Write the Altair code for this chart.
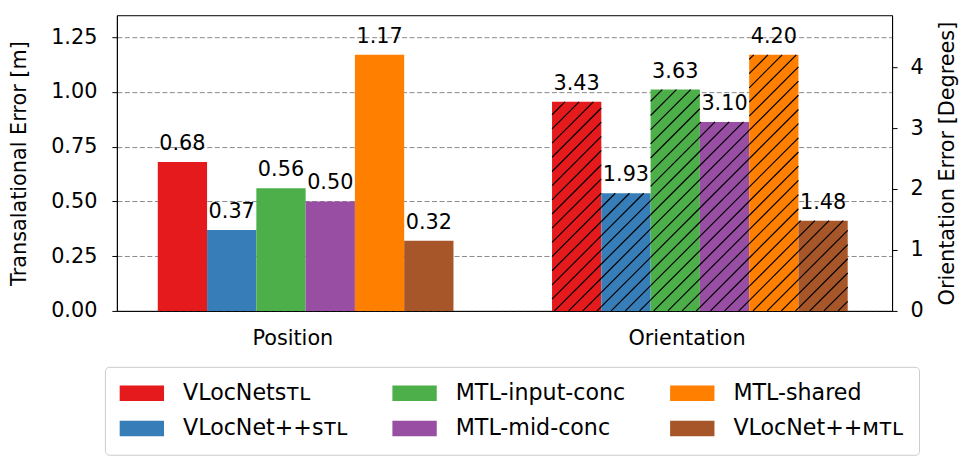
import altair as alt
import pandas as pd
import numpy as np

# ---- data ----
methods = ["VLocNetꜱᴛʟ", "VLocNet++ꜱᴛʟ", "MTL-input-conc", "MTL-mid-conc", "MTL-shared", "VLocNet++ᴍᴛʟ"]
colors = ["#e41a1c", "#377eb8", "#4daf4a", "#984ea3", "#ff7f00", "#a65628"]
position_err = [0.68, 0.37, 0.56, 0.50, 1.17, 0.32]
orientation_err = [3.43, 1.93, 3.63, 3.10, 4.20, 1.48]
groups = ["Position", "Orientation"]
left_ticks = [0.0, 0.25, 0.5, 0.75, 1.0, 1.25]
right_ticks = [0, 1, 2, 3, 4]

# ---- layout ----
W, H = 776, 296
X_DOM = [-0.83, 14.9]
Y_LEFT = [0, 1.35]
Y_RIGHT = [0, 4.85]
GROUP_STEP = 8
TICK_SHIFT = 2.73
FS = 20.8
FS_LEG = 22.2


def frame(vals, g):
    n = len(vals)
    return pd.DataFrame({
        "method": methods,
        "value": vals,
        "zero": [0] * n,
        "x": [g * GROUP_STEP + i for i in range(n)],
        "x2": [g * GROUP_STEP + i + 1 for i in range(n)],
        "xc": [g * GROUP_STEP + i + 0.5 for i in range(n)],
        "label": [f"{v:.2f}" for v in vals],
    })


pos = frame(position_err, 0)
ori = frame(orientation_err, 1)

# hatch lines ('/') for the orientation bars, 45 degrees in screen space
sx = W / (X_DOM[1] - X_DOM[0])
sy = H / (Y_RIGHT[1] - Y_RIGHT[0])
spacing = 14.2
rows = []
for _, r in ori.iterrows():
    X0 = (r.x - X_DOM[0]) * sx
    X1 = (r.x2 - X_DOM[0]) * sx
    Hp = r.value * sy
    kmin = int(np.floor((X0 - Hp) / spacing)) - 1
    kmax = int(np.ceil(X1 / spacing)) + 1
    for k in range(kmin, kmax + 1):
        c = k * spacing + 12
        xs = max(X0, c)
        xe = min(X1, c + Hp)
        if xe - xs > 0.6:
            rows.append(dict(hx=xs / sx + X_DOM[0], hx2=xe / sx + X_DOM[0],
                             hy=(xs - c) / sy, hy2=(xe - c) / sy))
hatch_df = pd.DataFrame(rows)

x_scale = alt.Scale(domain=X_DOM, nice=False, zero=False)
x_axis = alt.Axis(values=[TICK_SHIFT, TICK_SHIFT + GROUP_STEP],
                  labelExpr=f"datum.value < {GROUP_STEP / 2} ? '{groups[0]}' : '{groups[1]}'",
                  ticks=False, grid=False, title=None, labelPadding=18,
                  labelFontSize=FS, labelFlush=False)

yl_scale = alt.Scale(domain=Y_LEFT, nice=False)
yl_axis = alt.Axis(values=left_ticks, format=".2f", title="Transalational Error [m]",
                   grid=True, gridDash=[5, 2.5], gridColor="#8a8a8a", gridWidth=1,
                   tickSize=5, labelPadding=15, titlePadding=21,
                   labelFontSize=FS, titleFontSize=FS)
yr_scale = alt.Scale(domain=Y_RIGHT, nice=False)
yr_axis = alt.Axis(orient="right", values=right_ticks, format="d",
                   title="Orientation Error [Degrees]", titleAngle=270, titleBaseline="top",
                   grid=False, tickSize=5, labelPadding=13, titlePadding=14,
                   labelFontSize=FS, titleFontSize=FS)

color = alt.Color(
    "method:N",
    scale=alt.Scale(domain=methods, range=colors),
    legend=alt.Legend(
        title=None, orient="none", legendX=-12, legendY=352, columns=3,
        symbolType="M-1.13,-0.775L3.31,-0.775L3.31,0.775L-1.13,0.775Z", symbolSize=400,
        symbolStrokeWidth=0, symbolOpacity=1, labelFontSize=FS_LEG, labelOffset=41,
        labelLimit=400, columnPadding=44, rowPadding=12.5, padding=15,
        strokeColor="#cccccc", fillColor="white", cornerRadius=4,
    ),
)

bars_pos = alt.Chart(pos).mark_rect().encode(
    x=alt.X("x:Q", scale=x_scale, axis=x_axis), x2="x2:Q",
    y=alt.Y("value:Q", scale=yl_scale, axis=yl_axis), y2="zero:Q",
    color=color,
)
text_pos = alt.Chart(pos).mark_text(baseline="alphabetic", dy=-12, fontSize=FS, color="black").encode(
    x=alt.X("xc:Q", scale=x_scale, axis=x_axis),
    y=alt.Y("value:Q", scale=yl_scale, axis=yl_axis),
    text="label:N",
)

bars_ori = alt.Chart(ori).mark_rect().encode(
    x=alt.X("x:Q", scale=x_scale, axis=x_axis), x2="x2:Q",
    y=alt.Y("value:Q", scale=yr_scale, axis=yr_axis), y2="zero:Q",
    color=color,
)
hatch = alt.Chart(hatch_df).mark_rule(color="black", strokeWidth=1.2).encode(
    x=alt.X("hx:Q", scale=x_scale, axis=x_axis), x2="hx2:Q",
    y=alt.Y("hy:Q", scale=yr_scale, axis=yr_axis), y2="hy2:Q",
)
text_ori = alt.Chart(ori).mark_text(baseline="alphabetic", dy=-12, fontSize=FS, color="black").encode(
    x=alt.X("xc:Q", scale=x_scale, axis=x_axis),
    y=alt.Y("value:Q", scale=yr_scale, axis=yr_axis),
    text="label:N",
)

left = alt.layer(bars_pos, text_pos)
right = alt.layer(bars_ori, hatch, text_ori)

chart = alt.layer(left, right).resolve_scale(y="independent").properties(
    width=W, height=H,
    padding={"left": 0, "top": 7, "right": 4, "bottom": 0},
).configure(font="DejaVu Sans").configure_view(
    stroke="black", strokeWidth=1
).configure_axis(
    domainColor="black", tickColor="black", labelColor="black", titleColor="black",
    titleFontWeight="normal", domainWidth=1, tickWidth=1,
).configure_legend(
    labelColor="black", labelFont="DejaVu Sans"
)

chart.save("out.html", embed_options={"renderer": "svg", "actions": False})
